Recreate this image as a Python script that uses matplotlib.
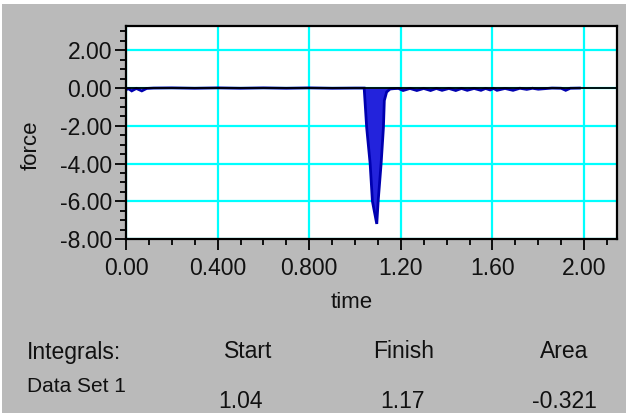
import matplotlib
matplotlib.use("Agg")
import matplotlib.pyplot as plt
from matplotlib.patches import Rectangle
from matplotlib.ticker import FixedLocator, MultipleLocator, FixedFormatter
import numpy as np

# ---- data ----
pre_time = [0.00, 0.012, 0.025, 0.045, 0.069, 0.09, 0.12, 0.20, 0.30, 0.40, 0.50,
            0.60, 0.70, 0.80, 0.90, 1.00, 1.03]
pre_force = [-0.08, -0.04, -0.15, -0.02, -0.15, -0.02, 0.0, 0.01, -0.01, 0.01, -0.01,
             0.01, -0.01, 0.01, -0.01, 0.0, 0.0]

spike_time = [1.040, 1.051, 1.066, 1.076, 1.095, 1.101, 1.114, 1.124, 1.128, 1.138,
              1.153, 1.170]
spike_force = [0.0, -2.1, -4.0, -6.0, -7.2, -6.0, -4.0, -2.1, -0.66, -0.21, -0.05, -0.03]

post_time = [1.19, 1.21, 1.24, 1.27, 1.30, 1.33, 1.355, 1.38, 1.41, 1.44, 1.465, 1.49,
             1.52, 1.55, 1.57, 1.59, 1.605, 1.62, 1.655, 1.69, 1.72, 1.75, 1.775, 1.80,
             1.86, 1.90, 1.92, 1.94, 1.98]
post_force = [-0.02, -0.13, -0.02, -0.13, -0.02, -0.13, -0.02, -0.12, -0.02, -0.13, -0.02,
              -0.12, -0.02, -0.12, -0.02, -0.10, -0.02, -0.12, -0.02, -0.12, -0.01, -0.07,
              -0.01, -0.06, 0.0, -0.01, -0.12, -0.01, 0.0]

x_ticks = [0.0, 0.4, 0.8, 1.2, 1.6, 2.0]
x_tick_labels = ["0.00", "0.400", "0.800", "1.20", "1.60", "2.00"]
y_ticks = [2.0, 0.0, -2.0, -4.0, -6.0, -8.0]
y_tick_labels = ["2.00", "0.00", "-2.00", "-4.00", "-6.00", "-8.00"]

integral_start = 1.04
integral_finish = 1.17
integral_area = -0.321
table_headers = ["Integrals:", "Start", "Finish", "Area"]
dataset_name = "Data Set 1"
table_values = ["1.04", "1.17", "-0.321"]

# ---- figure ----
W, H = 629, 413
fig = plt.figure(figsize=(W / 100, H / 100), dpi=100, facecolor="white")
FONT = ["Liberation Sans", "DejaVu Sans"]
TXT = "#111111"

def fx(px):
    return px / W

def fy(py):
    return 1 - py / H

fig.patches.append(Rectangle((fx(2), 0), fx(626) - fx(2), fy(4), transform=fig.transFigure,
                             facecolor="#bababa", edgecolor="none", zorder=-10))

L, R, T, B = 126, 617, 26, 239
ax = fig.add_axes([fx(L), fy(B), fx(R) - fx(L), fy(T) - fy(B)])
ax.set_facecolor("white")

t = np.array(pre_time + spike_time + post_time)
f = np.array(pre_force + spike_force + post_force)

mask = (t >= integral_start) & (t <= integral_finish)
ax.fill_between(t[mask], f[mask], 0, color="#2323dc", linewidth=0, zorder=2)
ax.plot(t, f, color="#0000b0", lw=2.0, zorder=3, solid_joinstyle="miter")
ax.axhline(0, color="black", lw=1.3, zorder=4)

ax.set_xlim(0, 2.144)
ax.set_ylim(-8, 3.29)

ax.xaxis.set_major_locator(FixedLocator(x_ticks))
ax.xaxis.set_major_formatter(FixedFormatter(x_tick_labels))
ax.xaxis.set_minor_locator(MultipleLocator(0.1))
ax.yaxis.set_major_locator(FixedLocator(y_ticks))
ax.yaxis.set_major_formatter(FixedFormatter(y_tick_labels))
ax.yaxis.set_minor_locator(MultipleLocator(0.5))

ax.grid(which="major", color="#00ffff", lw=1.6, zorder=0)
ax.set_axisbelow(True)

for s in ax.spines.values():
    s.set_linewidth(1.6)
    s.set_color("black")
    s.set_zorder(5)

ax.tick_params(which="major", direction="out", length=8, width=1.3, color="black",
               labelsize=16.5, pad=2)
ax.tick_params(which="minor", direction="out", length=4, width=1.3, color="black")
ax.tick_params(axis="x", which="major", pad=5)
for lab in ax.get_xticklabels() + ax.get_yticklabels():
    lab.set_family(FONT)
    lab.set_color(TXT)

# axis labels
fig.text(fx(352), fy(302), "time", ha="center", va="center", fontsize=16, family=FONT, color=TXT)
fig.text(fx(31), fy(145), "force", ha="center", va="center", rotation=90, fontsize=16,
         family=FONT, color=TXT)

# integrals table
fig.text(fx(27), fy(352), table_headers[0], ha="left", va="center", fontsize=16.5, family=FONT, color=TXT)
for cx, txt in zip([248, 404, 564], table_headers[1:]):
    fig.text(fx(cx), fy(352), txt, ha="center", va="center", fontsize=16.5, family=FONT, color=TXT)
fig.text(fx(27), fy(387), dataset_name, ha="left", va="center", fontsize=15, family=FONT, color=TXT)
for cx, txt in zip([240, 403, 564], table_values):
    fig.text(fx(cx), fy(402), txt, ha="center", va="center", fontsize=16.5, family=FONT, color=TXT)

fig.savefig("out.png", dpi=100, facecolor="white")
